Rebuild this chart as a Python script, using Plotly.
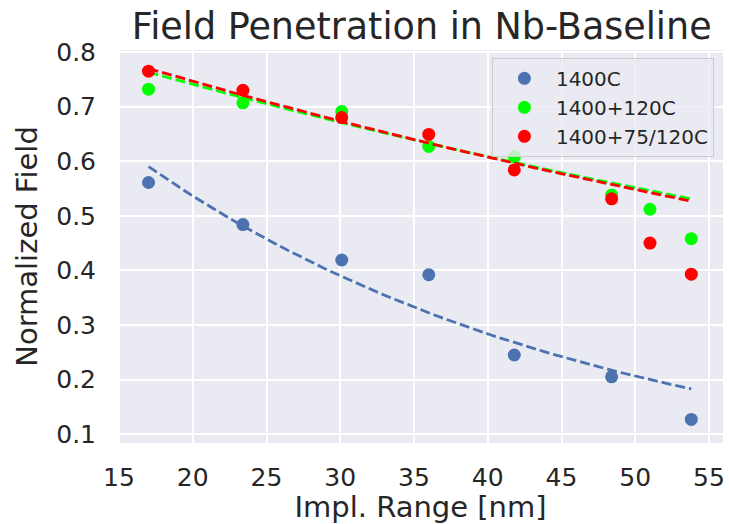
import numpy as np
import plotly.graph_objects as go

# ---- data ----
x_1400 = [17.0, 23.4, 30.1, 36.0, 41.8, 48.4, 53.8]
y_1400 = [0.561, 0.484, 0.419, 0.392, 0.245, 0.205, 0.127]

x_treated = [17.0, 23.4, 30.1, 36.0, 41.8, 48.4, 51.0, 53.8]
y_120 = [0.732, 0.707, 0.691, 0.627, 0.608, 0.538, 0.512, 0.458]
y_75_120 = [0.765, 0.730, 0.680, 0.649, 0.584, 0.531, 0.450, 0.393]

series_names = ["1400C", "1400+120C", "1400+75/120C"]
series_colors = ["#4C72B0", "#00FF00", "#FF0000"]

# exponential fit parameters (amplitude, decay length in nm)
fit_A = [1.014, 0.902, 0.917]
fit_lambda = [31.4, 101.5, 97.1]

x_ticks = [15, 20, 25, 30, 35, 40, 45, 50, 55]
y_ticks = [0.1, 0.2, 0.3, 0.4, 0.5, 0.6, 0.7, 0.8]

FONT = "DejaVu Sans"
TXT = "#262626"

fig = go.Figure()
xs_list = [x_1400, x_treated, x_treated]
ys_list = [y_1400, y_120, y_75_120]

for name, col, xs, ys, A, lam in zip(series_names, series_colors, xs_list, ys_list, fit_A, fit_lambda):
    fig.add_trace(go.Scatter(
        x=xs, y=ys, mode="markers", name=name,
        marker=dict(color=col, size=13, line=dict(width=0)),
    ))
    xf = np.linspace(min(xs), max(xs), 60)
    yf = A * np.exp(-xf / lam)
    fig.add_trace(go.Scatter(
        x=xf, y=yf, mode="lines", showlegend=False, hoverinfo="skip",
        line=dict(color=col, width=2.8, dash="10px,4px"),
    ))

fig.update_layout(
    width=729, height=524,
    margin=dict(l=118, r=4, t=50, b=81),
    paper_bgcolor="white",
    plot_bgcolor="#EAEAF2",
    font=dict(family=FONT, color=TXT),
    title=dict(
        text="Field Penetration in Nb-Baseline",
        x=0.5785, xanchor="center", y=0.95, yanchor="middle",
        font=dict(size=36.5, family=FONT, color=TXT),
    ),
    showlegend=True,
    legend=dict(
        x=0.985, xanchor="right", y=0.98, yanchor="top",
        bgcolor="rgba(234,234,242,0.8)", bordercolor="#CCCCCC", borderwidth=1,
        font=dict(size=20, family=FONT, color=TXT),
        itemwidth=53,
    ),
)

fig.update_xaxes(
    range=[14.93, 55.95],
    tickvals=x_ticks, ticktext=[str(v) for v in x_ticks],
    showgrid=True, gridcolor="white", gridwidth=1.6,
    zeroline=False, showline=False,
    ticks="outside", ticklen=12, tickcolor="rgba(0,0,0,0)",
    tickfont=dict(size=25, family=FONT, color=TXT),
    title=dict(text="Impl. Range [nm]", font=dict(size=29, family=FONT, color=TXT), standoff=8),
)
fig.update_yaxes(
    range=[0.0838, 0.8037],
    tickvals=y_ticks, ticktext=[f"{v:.1f}" for v in y_ticks],
    showgrid=True, gridcolor="white", gridwidth=1.6,
    zeroline=False, showline=False,
    ticks="outside", ticklen=16, tickcolor="rgba(0,0,0,0)",
    tickfont=dict(size=25, family=FONT, color=TXT),
    title=dict(text="Normalized Field", font=dict(size=29, family=FONT, color=TXT), standoff=10),
)

fig.write_html("out.html")
